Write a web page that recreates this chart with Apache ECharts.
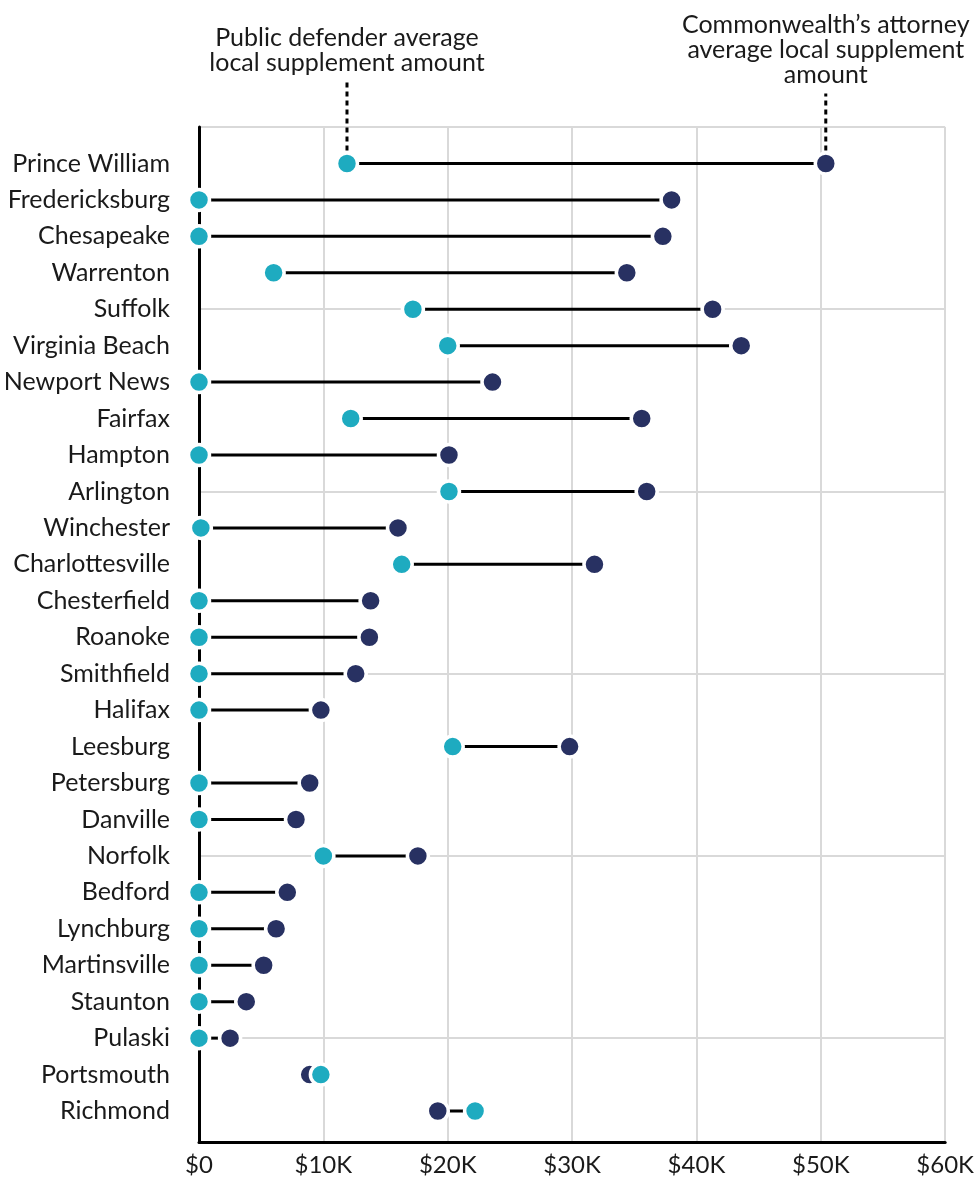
<!DOCTYPE html>
<html>
<head>
<meta charset="utf-8">
<script src="https://cdn.jsdelivr.net/npm/echarts@6/dist/echarts.min.js"></script>
<style>
html,body{margin:0;padding:0;background:#fff;}
#chart{width:977px;height:1180px;}
</style>
</head>
<body>
<div id="chart"></div>
<script>
// ---- data ----
const categories = ['Prince William','Fredericksburg','Chesapeake','Warrenton','Suffolk','Virginia Beach','Newport News','Fairfax','Hampton','Arlington','Winchester','Charlottesville','Chesterfield','Roanoke','Smithfield','Halifax','Leesburg','Petersburg','Danville','Norfolk','Bedford','Lynchburg','Martinsville','Staunton','Pulaski','Portsmouth','Richmond'];
const publicDefender = [11900, 0, 0, 6000, 17200, 20000, 0, 12200, 0, 20100, 150, 16300, 0, 0, 0, 0, 20400, 0, 0, 10000, 0, 0, 0, 0, 0, 9800, 22200];
const commonwealth = [50400, 38000, 37300, 34400, 41300, 43600, 23600, 35600, 20100, 36000, 16000, 31800, 13800, 13700, 12600, 9800, 29800, 8900, 7800, 17600, 7100, 6200, 5200, 3800, 2500, 8900, 19200];
const xTickLabels = ['$0','$10K','$20K','$30K','$40K','$50K','$60K'];
const pdLabel = 'Public defender average\nlocal supplement amount';
const caLabel = 'Commonwealth\u2019s attorney\naverage local supplement\namount';

const TEAL = '#1eabc0';
const NAVY = '#283162';
const GRID = '#d9d9d9';
const TEXT = '#1a1a1a';
const FONT = 'Lato';

// row positions: 1..n from top
const rowPos = categories.map((c, i) => i + 1);

const chart = echarts.init(document.getElementById('chart'), null, {renderer: 'canvas'});

const option = {
  animation: false,
  backgroundColor: '#fff',
  grid: {left: 199, right: 30, top: 127, bottom: 38, containLabel: false},
  xAxis: {
    type: 'value', min: 0, max: 60000, interval: 10000,
    axisLine: {show: true, onZero: false, lineStyle: {color: '#000', width: 3}},
    axisTick: {show: false},
    splitLine: {show: true, lineStyle: {color: GRID, width: 2}},
    axisLabel: {
      margin: 11, color: TEXT, fontFamily: FONT, fontSize: 24,
      formatter: v => xTickLabels[Math.round(v / 10000)] || ''
    }
  },
  yAxis: [
    {
      type: 'value', inverse: true, min: 0, max: 27.85, interval: 5,
      axisLine: {show: true, onZero: false, lineStyle: {color: '#000', width: 3}},
      axisTick: {show: false},
      axisLabel: {show: false},
      splitLine: {show: true, lineStyle: {color: GRID, width: 2}}
    },
    {
      type: 'value', inverse: true, min: 0, max: 27.85, interval: 1,
      position: 'left',
      axisLine: {show: false},
      axisTick: {show: false},
      splitLine: {show: false},
      axisLabel: {
        margin: 29, color: TEXT, fontFamily: FONT, fontSize: 25,
        formatter: v => (Number.isInteger(v) && v >= 1 && v <= categories.length) ? categories[v - 1] : ''
      }
    }
  ],
  series: [
    {
      type: 'custom',
      z: 1,
      silent: true,
      data: categories.map((c, i) => [publicDefender[i], commonwealth[i], rowPos[i]]),
      encode: {x: [0, 1], y: 2},
      renderItem: function (params, api) {
        const a = api.coord([api.value(0), api.value(2)]);
        const b = api.coord([api.value(1), api.value(2)]);
        return {
          type: 'line',
          shape: {x1: a[0], y1: a[1], x2: b[0], y2: b[1]},
          style: {stroke: '#000', lineWidth: 3}
        };
      }
    },
    {
      name: 'Commonwealth\u2019s attorney',
      type: 'scatter',
      z: 3,
      symbol: 'circle',
      symbolSize: 21,
      itemStyle: {color: NAVY, borderColor: '#fff', borderWidth: 3.5, opacity: 1},
      data: categories.map((c, i) => [commonwealth[i], rowPos[i]])
    },
    {
      name: 'Public defender',
      type: 'scatter',
      z: 4,
      symbol: 'circle',
      symbolSize: 21,
      itemStyle: {color: TEAL, borderColor: '#fff', borderWidth: 3.5, opacity: 1},
      data: categories.map((c, i) => [publicDefender[i], rowPos[i]])
    }
  ]
};

chart.setOption(option);

// annotations anchored to the Prince William points
const pdPt = chart.convertToPixel({gridIndex: 0}, [publicDefender[0], rowPos[0]]);
const caPt = chart.convertToPixel({gridIndex: 0}, [commonwealth[0], rowPos[0]]);

chart.setOption({
  graphic: [
    {
      type: 'line', z: 10, silent: true,
      shape: {x1: pdPt[0], y1: pdPt[1] - 13, x2: pdPt[0], y2: pdPt[1] - 83},
      style: {stroke: '#000', lineWidth: 3, lineDash: [5, 4]}
    },
    {
      type: 'line', z: 10, silent: true,
      shape: {x1: caPt[0], y1: caPt[1] - 13, x2: caPt[0], y2: caPt[1] - 70},
      style: {stroke: '#000', lineWidth: 3, lineDash: [5, 4]}
    },
    {
      type: 'text', z: 10, silent: true,
      x: pdPt[0], y: pdPt[1] - 88,
      style: {text: pdLabel, fill: TEXT, fontFamily: FONT, fontSize: 25, lineHeight: 25,
        align: 'center', verticalAlign: 'bottom', textAlign: 'center', textVerticalAlign: 'bottom'}
    },
    {
      type: 'text', z: 10, silent: true,
      x: caPt[0], y: caPt[1] - 76,
      style: {text: caLabel, fill: TEXT, fontFamily: FONT, fontSize: 25, lineHeight: 25,
        align: 'center', verticalAlign: 'bottom', textAlign: 'center', textVerticalAlign: 'bottom'}
    }
  ]
});
</script>
</body>
</html>
